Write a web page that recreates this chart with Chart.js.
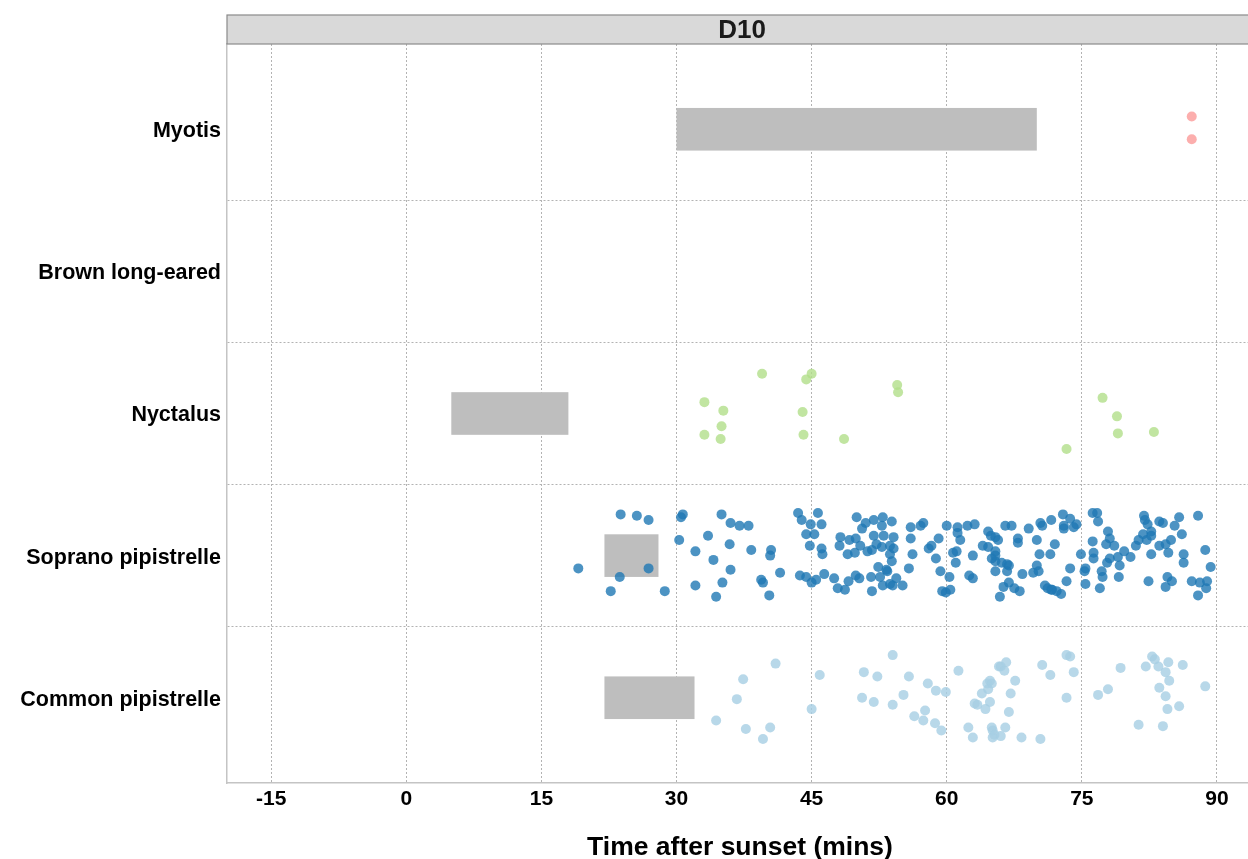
<!DOCTYPE html>
<html>
<head>
<meta charset="utf-8">
<script src="https://cdn.jsdelivr.net/npm/chart.js@4"></script>
<style>
  html, body { margin: 0; padding: 0; background: #fff; overflow: hidden; }
  #wrap { width: 1248px; height: 859px; overflow: hidden; position: relative; }
  #chart { display: block; }
</style>
</head>
<body>
<div id="wrap"><canvas id="chart" width="1258" height="859"></canvas></div>
<script>
// categories, bottom to top (y position = index + 1)
const species = ['Common pipistrelle', 'Soprano pipistrelle', 'Nyctalus', 'Brown long-eared', 'Myotis'];
const speciesColors = ['rgba(166,206,227,0.8)', 'rgba(31,120,180,0.8)', 'rgba(178,223,138,0.8)', 'rgba(202,178,214,0.8)', 'rgba(251,154,153,0.8)'];
const xTicks = [-15, 0, 15, 30, 45, 60, 75, 90];
const panelLabel = 'D10';

// grey emergence bars (minutes after sunset)
const barSpecies = ['Myotis', 'Nyctalus', 'Soprano pipistrelle', 'Common pipistrelle'];
const barStart = [30, 5, 22, 22];
const barEnd = [70, 18, 28, 32];

// passes: time (mins) and vertical jitter
const myotisTime = [87.2, 87.2];
const myotisJitter = [0.09, -0.07];

const nyctalusTime = [39.5, 45.0, 44.4, 33.1, 35.2, 35.0, 33.1, 34.9, 44.0, 44.1, 48.6, 54.5, 54.6, 77.3, 78.9, 79.0, 83.0, 73.3];
const nyctalusJitter = [0.28, 0.28, 0.24, 0.08, 0.02, -0.09, -0.15, -0.18, 0.01, -0.15, -0.18, 0.20, 0.15, 0.11, -0.02, -0.14, -0.13, -0.25];

const sopranoTime = [
  23.8, 25.6, 26.9, 19.1, 23.7, 26.9, 22.7, 28.7, 30.7, 30.5, 30.3, 32.1, 33.5, 34.1, 35.0, 36.0, 35.9, 32.1, 35.1, 34.4,
  36.0, 37.0, 38.0, 38.3, 40.5, 40.4, 41.5, 39.4, 39.6, 40.3, 43.5, 43.9, 45.7, 44.9, 46.1, 44.4, 45.3, 44.8, 46.1, 46.2,
  43.7, 44.4, 45.5, 45.0, 46.4, 47.5, 47.9, 48.7, 50.0, 51.0, 51.9, 52.9, 52.8, 50.6, 48.2, 49.2, 49.9, 48.1, 50.4, 49.8,
  49.0, 51.2, 51.9, 53.0, 52.2, 52.8, 53.7, 51.7, 53.7, 52.4, 53.3, 49.1, 49.9, 50.3, 51.6, 52.6, 52.9, 53.7, 51.7, 53.9,
  54.1, 54.1, 53.9, 53.4, 54.0, 54.4, 55.1, 56.0, 57.1, 57.4, 56.0, 56.2, 55.8, 58.0, 58.3, 59.1, 58.8, 59.3, 59.5, 59.9,
  60.4, 60.3, 60.0, 61.2, 61.2, 61.5, 61.1, 60.7, 61.0, 62.3, 63.1, 62.9, 62.5, 62.9, 64.6, 64.9, 65.4, 65.7, 64.0, 64.6,
  65.4, 65.4, 65.0, 65.4, 66.1, 66.7, 66.9, 65.4, 66.7, 66.5, 67.2, 67.9, 67.9, 69.1, 70.0, 70.4, 70.6, 71.6, 70.3, 71.5,
  70.0, 69.6, 70.2, 68.4, 66.9, 66.3, 67.5, 68.1, 65.9, 70.9, 71.2, 71.6, 72.9, 73.7, 73.0, 73.0, 74.1, 74.4, 72.0, 73.7,
  73.3, 71.7, 72.2, 72.7, 76.2, 76.7, 76.8, 77.9, 76.2, 78.1, 77.7, 78.6, 74.9, 76.3, 76.3, 78.1, 79.0, 77.8, 79.7, 80.4,
  79.2, 75.4, 75.3, 77.2, 77.3, 79.1, 75.4, 77.0, 81.0, 81.3, 81.9, 82.0, 82.3, 82.7, 81.8, 82.2, 82.7, 82.7, 83.6, 84.3,
  84.9, 84.6, 83.6, 84.0, 85.3, 85.8, 86.1, 86.3, 86.3, 87.9, 88.7, 89.3, 82.4, 84.5, 85.0, 84.3, 87.2, 88.1, 88.9, 88.8,
  87.9
];
const sopranoJitter = [
  0.29, 0.28, 0.25, -0.09, -0.15, -0.09, -0.25, -0.25, 0.29, 0.27, 0.11, 0.03, 0.14, -0.03, 0.29, 0.23, 0.08, -0.21, -0.19, -0.29,
  -0.10, 0.21, 0.21, 0.04, 0.04, 0.00, -0.12, -0.17, -0.19, -0.28, 0.30, 0.25, 0.30, 0.22, 0.22, 0.15, 0.15, 0.07, 0.05, 0.01,
  -0.14, -0.15, -0.17, -0.19, -0.13, -0.16, -0.23, -0.24, 0.27, 0.23, 0.25, 0.27, 0.21, 0.19, 0.13, 0.11, 0.12, 0.07, 0.07, 0.02,
  0.01, 0.03, 0.14, 0.14, 0.08, 0.06, 0.07, 0.04, 0.01, -0.08, -0.10, -0.18, -0.14, -0.16, -0.15, -0.15, -0.21, -0.20, -0.25, 0.24,
  0.13, 0.05, -0.04, -0.11, -0.21, -0.16, -0.21, 0.20, 0.21, 0.23, 0.12, 0.01, -0.09, 0.05, 0.07, 0.12, -0.02, -0.11, -0.25, -0.26,
  -0.24, -0.15, 0.21, 0.20, 0.16, 0.11, 0.03, 0.02, -0.05, 0.21, 0.22, 0.00, -0.14, -0.16, 0.17, 0.14, 0.13, 0.11, 0.07, 0.06,
  0.03, 0.00, -0.02, -0.04, -0.05, -0.06, -0.07, -0.11, -0.11, 0.21, 0.21, 0.12, 0.09, 0.19, 0.11, 0.23, 0.21, 0.25, 0.01, 0.01,
  -0.07, -0.12, -0.11, -0.13, -0.19, -0.22, -0.23, -0.25, -0.29, -0.21, -0.23, -0.24, 0.29, 0.26, 0.21, 0.19, 0.20, 0.22, 0.08, -0.09,
  -0.18, -0.24, -0.25, -0.27, 0.30, 0.30, 0.24, 0.17, 0.10, 0.12, 0.08, 0.07, 0.01, 0.02, -0.02, -0.02, -0.01, -0.05, 0.03, -0.01,
  -0.07, -0.09, -0.11, -0.11, -0.15, -0.15, -0.20, -0.23, 0.07, 0.11, 0.28, 0.25, 0.22, 0.17, 0.15, 0.11, 0.14, 0.01, 0.07, 0.08,
  0.11, 0.02, 0.24, 0.23, 0.21, 0.27, 0.15, 0.01, -0.05, 0.28, 0.04, -0.08, -0.18, -0.15, -0.18, -0.22, -0.18, -0.19, -0.18, -0.23,
  -0.28
];

const commonTime = [
  41.0, 37.4, 36.7, 34.4, 37.7, 40.4, 39.6, 45.9, 45.0, 50.8, 52.3, 50.6, 51.9, 54.0, 55.8, 57.9, 58.8, 59.9, 54.0, 55.2,
  56.4, 57.6, 57.4, 58.7, 59.4, 61.3, 65.8, 66.0, 66.6, 66.4, 67.6, 64.8, 64.5, 65.0, 64.6, 63.9, 67.1, 63.1, 63.4, 64.8,
  64.3, 66.9, 62.4, 65.0, 65.1, 65.3, 66.5, 62.9, 65.1, 66.0, 68.3, 70.4, 70.6, 71.5, 73.3, 73.7, 74.1, 73.3, 79.3, 76.8,
  77.9, 82.8, 83.1, 82.1, 83.5, 84.6, 84.3, 86.2, 84.7, 83.6, 84.3, 84.5, 85.8, 88.7, 81.3, 84.0
];
const commonJitter = [
  0.24, 0.13, -0.01, -0.16, -0.22, -0.21, -0.29, 0.16, -0.08, 0.18, 0.15, 0.00, -0.03, 0.30, 0.15, 0.10, 0.05, 0.04, -0.05, 0.02,
  -0.13, -0.09, -0.16, -0.18, -0.23, 0.19, 0.22, 0.22, 0.25, 0.19, 0.12, 0.12, 0.10, 0.10, 0.06, 0.03, 0.03, -0.04, -0.05, -0.03,
  -0.08, -0.10, -0.21, -0.21, -0.23, -0.26, -0.21, -0.28, -0.28, -0.27, -0.28, -0.29, 0.23, 0.16, 0.30, 0.29, 0.18, 0.00, 0.21, 0.02,
  0.06, 0.29, 0.27, 0.22, 0.22, 0.25, 0.18, 0.23, 0.12, 0.07, 0.01, -0.08, -0.06, 0.08, -0.19, -0.20
];

const fontFamily = "'Liberation Sans', Arial, Helvetica, sans-serif";

function makePoints(name, times, jitter) {
    const pos = species.indexOf(name) + 1;
    return times.map((t, i) => ({ x: t, y: pos + jitter[i] }));
}

function pointSet(name, times, jitter) {
    const idx = species.indexOf(name);
    return {
        label: name,
        data: makePoints(name, times, jitter),
        backgroundColor: speciesColors[idx],
        borderWidth: 0,
        pointRadius: 5,
        pointHoverRadius: 5
    };
}

// grey bars drawn through the chart's scales
const emergenceBars = {
    id: 'emergenceBars',
    beforeDatasetsDraw(chart) {
        const { ctx, scales: { x, y }, chartArea } = chart;
        ctx.save();
        ctx.beginPath();
        ctx.rect(chartArea.left, chartArea.top, chartArea.right - chartArea.left, chartArea.bottom - chartArea.top);
        ctx.clip();
        ctx.fillStyle = '#bebebe';
        barSpecies.forEach((name, i) => {
            const pos = species.indexOf(name) + 1;
            const x0 = x.getPixelForValue(barStart[i]);
            const x1 = x.getPixelForValue(barEnd[i]);
            const y0 = y.getPixelForValue(pos + 0.15);
            const y1 = y.getPixelForValue(pos - 0.15);
            ctx.fillRect(x0, y0, x1 - x0, y1 - y0);
        });
        ctx.restore();
    }
};

// facet strip above the panel
const facetStrip = {
    id: 'facetStrip',
    afterDraw(chart) {
        const { ctx, chartArea } = chart;
        const top = 15;
        const h = chartArea.top - top;
        ctx.save();
        ctx.fillStyle = '#d9d9d9';
        ctx.fillRect(chartArea.left, top, chartArea.right - chartArea.left + 10, h);
        ctx.strokeStyle = '#8a8a8a';
        ctx.lineWidth = 1.2;
        ctx.strokeRect(chartArea.left, top, chartArea.right - chartArea.left + 10, h);
        ctx.fillStyle = '#1a1a1a';
        ctx.font = 'bold 26px ' + fontFamily;
        ctx.textAlign = 'center';
        ctx.textBaseline = 'middle';
        ctx.fillText(panelLabel, 742, top + h / 2 + 1);
        ctx.restore();
    }
};

const ctx = document.getElementById('chart').getContext('2d');
new Chart(ctx, {
    type: 'scatter',
    data: {
        datasets: [
            pointSet('Myotis', myotisTime, myotisJitter),
            pointSet('Nyctalus', nyctalusTime, nyctalusJitter),
            pointSet('Soprano pipistrelle', sopranoTime, sopranoJitter),
            pointSet('Common pipistrelle', commonTime, commonJitter)
        ]
    },
    options: {
        responsive: false,
        devicePixelRatio: 1,
        animation: false,
        layout: { padding: { top: 44, left: 0, right: 0, bottom: 0 } },
        plugins: {
            legend: { display: false },
            tooltip: { enabled: false }
        },
        scales: {
            x: {
                type: 'linear',
                min: -19.9,
                max: 94.0,
                afterBuildTicks: scale => { scale.ticks = xTicks.map(v => ({ value: v })); },
                afterFit: scale => { scale.height = 76; },
                grid: { color: '#b3b3b3', lineWidth: 1, drawTicks: false },
                border: { display: true, color: '#c4c4c4', width: 1.5, dash: [2, 2] },
                ticks: {
                    color: '#000',
                    padding: 4,
                    maxRotation: 0,
                    font: { family: fontFamily, size: 21, weight: 'bold' }
                },
                title: {
                    display: true,
                    text: 'Time after sunset (mins)',
                    color: '#000',
                    padding: { top: 0, bottom: 0 },
                    font: { family: fontFamily, size: 26.5, weight: 'bold', lineHeight: 0.85 }
                }
            },
            y: {
                type: 'linear',
                min: 0.4,
                max: 5.6,
                afterBuildTicks: scale => {
                    const t = [];
                    for (let i = 1; i <= species.length; i++) {
                        t.push({ value: i });
                        if (i < species.length) t.push({ value: i + 0.5 });
                    }
                    scale.ticks = t;
                },
                afterFit: scale => { scale.width = 227; },
                grid: {
                    drawTicks: false,
                    lineWidth: 1,
                    color: c => (c.tick && !Number.isInteger(c.tick.value)) ? '#b3b3b3' : 'rgba(0,0,0,0)'
                },
                border: { display: true, color: '#c4c4c4', width: 1.5, dash: [2, 2] },
                ticks: {
                    color: '#000',
                    padding: 6,
                    labelOffset: 2,
                    autoSkip: false,
                    font: { family: fontFamily, size: 21.5, weight: 'bold' },
                    callback: v => Number.isInteger(v) ? species[v - 1] : ''
                }
            }
        }
    },
    plugins: [emergenceBars, facetStrip]
});
</script>
</body>
</html>
